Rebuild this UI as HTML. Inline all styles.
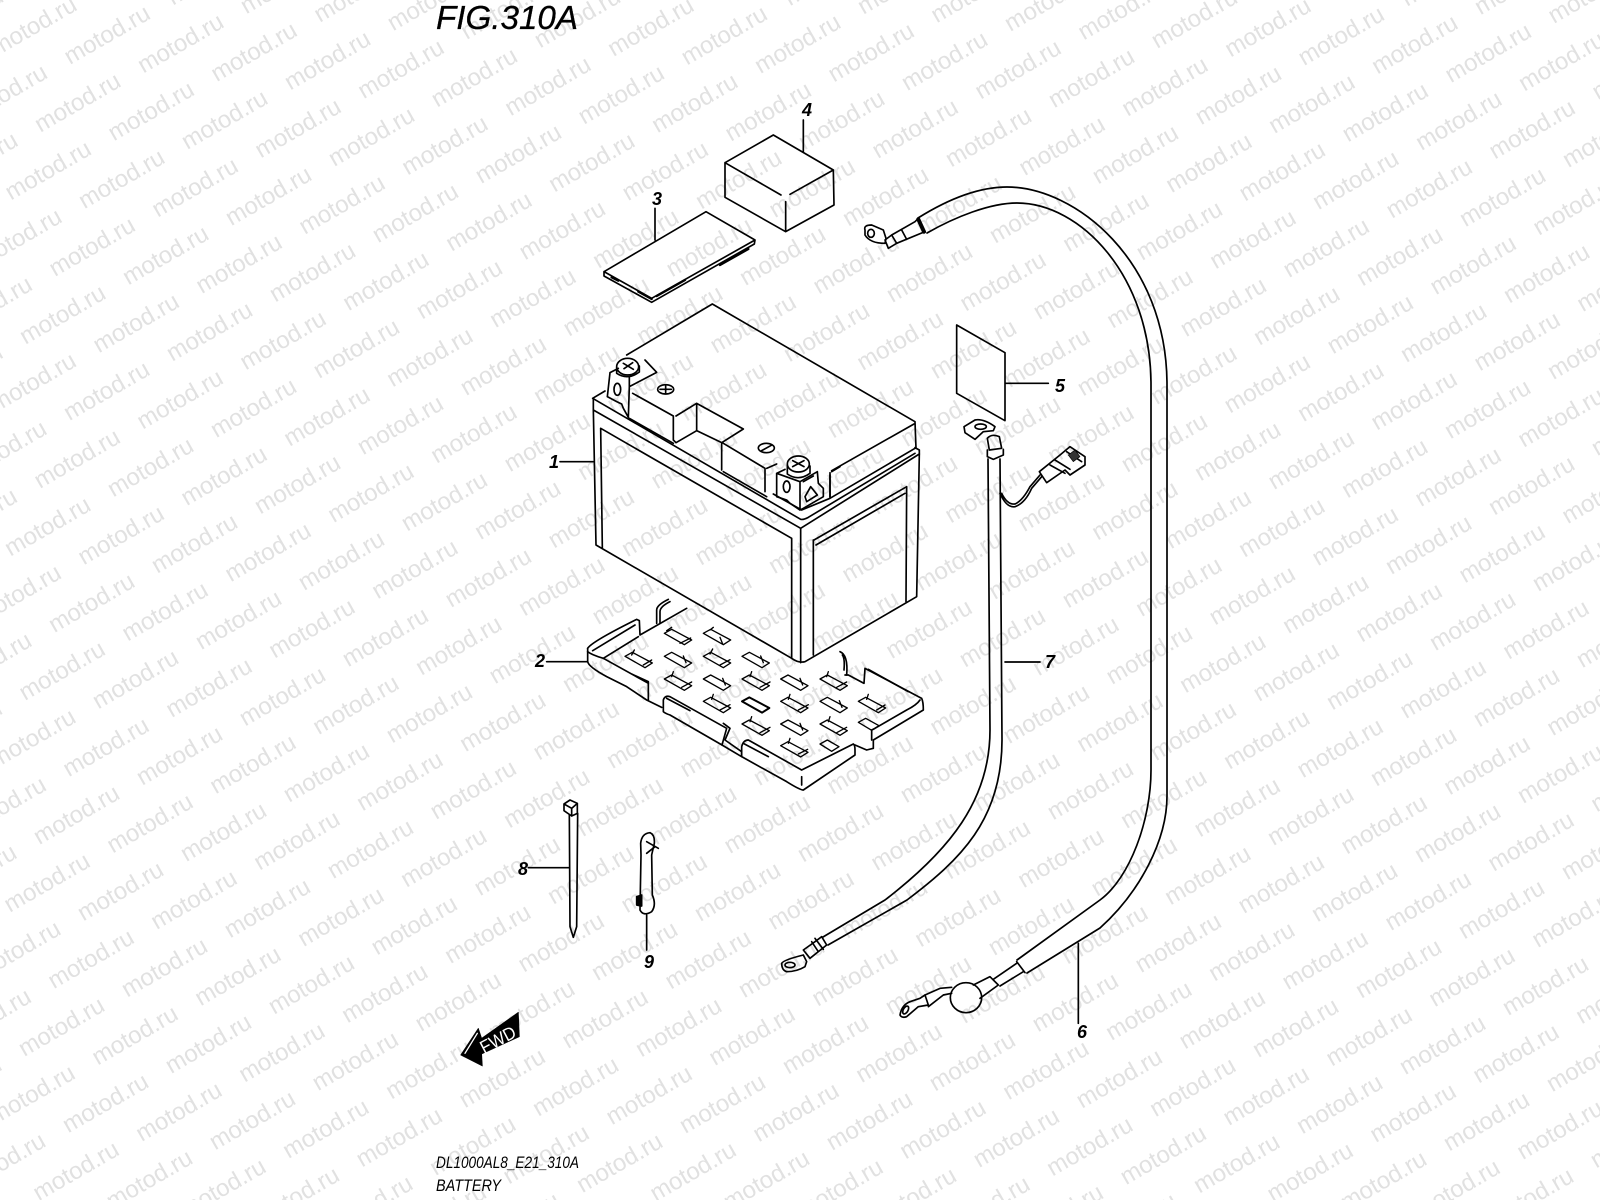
<!DOCTYPE html>
<html><head><meta charset="utf-8"><title>FIG.310A Battery</title>
<style>
html,body{margin:0;padding:0;background:#fff;width:1600px;height:1200px;overflow:hidden}
svg{display:block}
.w text{font:24px "Liberation Sans",sans-serif;fill:#e1e1e1;word-spacing:17.4px;text-rendering:geometricPrecision}
.l{fill:none;stroke:#000;stroke-linecap:round;stroke-linejoin:round}
.n{font:italic bold 18px "Liberation Sans",sans-serif;fill:#000;text-anchor:middle}
</style></head><body>
<svg xmlns="http://www.w3.org/2000/svg" width="1600" height="1200" viewBox="0 0 1600 1200">
<rect width="1600" height="1200" fill="#fff"/>
<g class="w" transform="translate(70 65) rotate(-29.93)">
<text x="-653.4" y="-132.15">motod.ru motod.ru motod.ru motod.ru motod.ru motod.ru motod.ru motod.ru motod.ru motod.ru motod.ru motod.ru motod.ru motod.ru motod.ru motod.ru motod.ru motod.ru motod.ru</text>
<text x="-712.8" y="-88.1">motod.ru motod.ru motod.ru motod.ru motod.ru motod.ru motod.ru motod.ru motod.ru motod.ru motod.ru motod.ru motod.ru motod.ru motod.ru motod.ru motod.ru motod.ru motod.ru</text>
<text x="-653.4" y="-44.05">motod.ru motod.ru motod.ru motod.ru motod.ru motod.ru motod.ru motod.ru motod.ru motod.ru motod.ru motod.ru motod.ru motod.ru motod.ru motod.ru motod.ru motod.ru motod.ru</text>
<text x="-712.8" y="0">motod.ru motod.ru motod.ru motod.ru motod.ru motod.ru motod.ru motod.ru motod.ru motod.ru motod.ru motod.ru motod.ru motod.ru motod.ru motod.ru motod.ru motod.ru motod.ru</text>
<text x="-653.4" y="44.05">motod.ru motod.ru motod.ru motod.ru motod.ru motod.ru motod.ru motod.ru motod.ru motod.ru motod.ru motod.ru motod.ru motod.ru motod.ru motod.ru motod.ru motod.ru motod.ru</text>
<text x="-712.8" y="88.1">motod.ru motod.ru motod.ru motod.ru motod.ru motod.ru motod.ru motod.ru motod.ru motod.ru motod.ru motod.ru motod.ru motod.ru motod.ru motod.ru motod.ru motod.ru motod.ru</text>
<text x="-653.4" y="132.15">motod.ru motod.ru motod.ru motod.ru motod.ru motod.ru motod.ru motod.ru motod.ru motod.ru motod.ru motod.ru motod.ru motod.ru motod.ru motod.ru motod.ru motod.ru motod.ru</text>
<text x="-712.8" y="176.2">motod.ru motod.ru motod.ru motod.ru motod.ru motod.ru motod.ru motod.ru motod.ru motod.ru motod.ru motod.ru motod.ru motod.ru motod.ru motod.ru motod.ru motod.ru motod.ru</text>
<text x="-653.4" y="220.25">motod.ru motod.ru motod.ru motod.ru motod.ru motod.ru motod.ru motod.ru motod.ru motod.ru motod.ru motod.ru motod.ru motod.ru motod.ru motod.ru motod.ru motod.ru motod.ru</text>
<text x="-712.8" y="264.3">motod.ru motod.ru motod.ru motod.ru motod.ru motod.ru motod.ru motod.ru motod.ru motod.ru motod.ru motod.ru motod.ru motod.ru motod.ru motod.ru motod.ru motod.ru motod.ru</text>
<text x="-653.4" y="308.35">motod.ru motod.ru motod.ru motod.ru motod.ru motod.ru motod.ru motod.ru motod.ru motod.ru motod.ru motod.ru motod.ru motod.ru motod.ru motod.ru motod.ru motod.ru motod.ru</text>
<text x="-712.8" y="352.4">motod.ru motod.ru motod.ru motod.ru motod.ru motod.ru motod.ru motod.ru motod.ru motod.ru motod.ru motod.ru motod.ru motod.ru motod.ru motod.ru motod.ru motod.ru motod.ru</text>
<text x="-653.4" y="396.45">motod.ru motod.ru motod.ru motod.ru motod.ru motod.ru motod.ru motod.ru motod.ru motod.ru motod.ru motod.ru motod.ru motod.ru motod.ru motod.ru motod.ru motod.ru motod.ru</text>
<text x="-712.8" y="440.5">motod.ru motod.ru motod.ru motod.ru motod.ru motod.ru motod.ru motod.ru motod.ru motod.ru motod.ru motod.ru motod.ru motod.ru motod.ru motod.ru motod.ru motod.ru motod.ru</text>
<text x="-653.4" y="484.55">motod.ru motod.ru motod.ru motod.ru motod.ru motod.ru motod.ru motod.ru motod.ru motod.ru motod.ru motod.ru motod.ru motod.ru motod.ru motod.ru motod.ru motod.ru motod.ru</text>
<text x="-712.8" y="528.6">motod.ru motod.ru motod.ru motod.ru motod.ru motod.ru motod.ru motod.ru motod.ru motod.ru motod.ru motod.ru motod.ru motod.ru motod.ru motod.ru motod.ru motod.ru motod.ru</text>
<text x="-653.4" y="572.65">motod.ru motod.ru motod.ru motod.ru motod.ru motod.ru motod.ru motod.ru motod.ru motod.ru motod.ru motod.ru motod.ru motod.ru motod.ru motod.ru motod.ru motod.ru motod.ru</text>
<text x="-712.8" y="616.7">motod.ru motod.ru motod.ru motod.ru motod.ru motod.ru motod.ru motod.ru motod.ru motod.ru motod.ru motod.ru motod.ru motod.ru motod.ru motod.ru motod.ru motod.ru motod.ru</text>
<text x="-653.4" y="660.75">motod.ru motod.ru motod.ru motod.ru motod.ru motod.ru motod.ru motod.ru motod.ru motod.ru motod.ru motod.ru motod.ru motod.ru motod.ru motod.ru motod.ru motod.ru motod.ru</text>
<text x="-712.8" y="704.8">motod.ru motod.ru motod.ru motod.ru motod.ru motod.ru motod.ru motod.ru motod.ru motod.ru motod.ru motod.ru motod.ru motod.ru motod.ru motod.ru motod.ru motod.ru motod.ru</text>
<text x="-653.4" y="748.85">motod.ru motod.ru motod.ru motod.ru motod.ru motod.ru motod.ru motod.ru motod.ru motod.ru motod.ru motod.ru motod.ru motod.ru motod.ru motod.ru motod.ru motod.ru motod.ru</text>
<text x="-712.8" y="792.9">motod.ru motod.ru motod.ru motod.ru motod.ru motod.ru motod.ru motod.ru motod.ru motod.ru motod.ru motod.ru motod.ru motod.ru motod.ru motod.ru motod.ru motod.ru motod.ru</text>
<text x="-653.4" y="836.95">motod.ru motod.ru motod.ru motod.ru motod.ru motod.ru motod.ru motod.ru motod.ru motod.ru motod.ru motod.ru motod.ru motod.ru motod.ru motod.ru motod.ru motod.ru motod.ru</text>
<text x="-712.8" y="881">motod.ru motod.ru motod.ru motod.ru motod.ru motod.ru motod.ru motod.ru motod.ru motod.ru motod.ru motod.ru motod.ru motod.ru motod.ru motod.ru motod.ru motod.ru motod.ru</text>
<text x="-653.4" y="925.05">motod.ru motod.ru motod.ru motod.ru motod.ru motod.ru motod.ru motod.ru motod.ru motod.ru motod.ru motod.ru motod.ru motod.ru motod.ru motod.ru motod.ru motod.ru motod.ru</text>
<text x="-712.8" y="969.1">motod.ru motod.ru motod.ru motod.ru motod.ru motod.ru motod.ru motod.ru motod.ru motod.ru motod.ru motod.ru motod.ru motod.ru motod.ru motod.ru motod.ru motod.ru motod.ru</text>
<text x="-653.4" y="1013.15">motod.ru motod.ru motod.ru motod.ru motod.ru motod.ru motod.ru motod.ru motod.ru motod.ru motod.ru motod.ru motod.ru motod.ru motod.ru motod.ru motod.ru motod.ru motod.ru</text>
<text x="-712.8" y="1057.2">motod.ru motod.ru motod.ru motod.ru motod.ru motod.ru motod.ru motod.ru motod.ru motod.ru motod.ru motod.ru motod.ru motod.ru motod.ru motod.ru motod.ru motod.ru motod.ru</text>
<text x="-653.4" y="1101.25">motod.ru motod.ru motod.ru motod.ru motod.ru motod.ru motod.ru motod.ru motod.ru motod.ru motod.ru motod.ru motod.ru motod.ru motod.ru motod.ru motod.ru motod.ru motod.ru</text>
<text x="-712.8" y="1145.3">motod.ru motod.ru motod.ru motod.ru motod.ru motod.ru motod.ru motod.ru motod.ru motod.ru motod.ru motod.ru motod.ru motod.ru motod.ru motod.ru motod.ru motod.ru motod.ru</text>
<text x="-653.4" y="1189.35">motod.ru motod.ru motod.ru motod.ru motod.ru motod.ru motod.ru motod.ru motod.ru motod.ru motod.ru motod.ru motod.ru motod.ru motod.ru motod.ru motod.ru motod.ru motod.ru</text>
<text x="-712.8" y="1233.4">motod.ru motod.ru motod.ru motod.ru motod.ru motod.ru motod.ru motod.ru motod.ru motod.ru motod.ru motod.ru motod.ru motod.ru motod.ru motod.ru motod.ru motod.ru motod.ru</text>
<text x="-653.4" y="1277.45">motod.ru motod.ru motod.ru motod.ru motod.ru motod.ru motod.ru motod.ru motod.ru motod.ru motod.ru motod.ru motod.ru motod.ru motod.ru motod.ru motod.ru motod.ru motod.ru</text>
<text x="-712.8" y="1321.5">motod.ru motod.ru motod.ru motod.ru motod.ru motod.ru motod.ru motod.ru motod.ru motod.ru motod.ru motod.ru motod.ru motod.ru motod.ru motod.ru motod.ru motod.ru motod.ru</text>
<text x="-653.4" y="1365.55">motod.ru motod.ru motod.ru motod.ru motod.ru motod.ru motod.ru motod.ru motod.ru motod.ru motod.ru motod.ru motod.ru motod.ru motod.ru motod.ru motod.ru motod.ru motod.ru</text>
<text x="-712.8" y="1409.6">motod.ru motod.ru motod.ru motod.ru motod.ru motod.ru motod.ru motod.ru motod.ru motod.ru motod.ru motod.ru motod.ru motod.ru motod.ru motod.ru motod.ru motod.ru motod.ru</text>
<text x="-653.4" y="1453.65">motod.ru motod.ru motod.ru motod.ru motod.ru motod.ru motod.ru motod.ru motod.ru motod.ru motod.ru motod.ru motod.ru motod.ru motod.ru motod.ru motod.ru motod.ru motod.ru</text>
<text x="-712.8" y="1497.7">motod.ru motod.ru motod.ru motod.ru motod.ru motod.ru motod.ru motod.ru motod.ru motod.ru motod.ru motod.ru motod.ru motod.ru motod.ru motod.ru motod.ru motod.ru motod.ru</text>
<text x="-653.4" y="1541.75">motod.ru motod.ru motod.ru motod.ru motod.ru motod.ru motod.ru motod.ru motod.ru motod.ru motod.ru motod.ru motod.ru motod.ru motod.ru motod.ru motod.ru motod.ru motod.ru</text>
<text x="-712.8" y="1585.8">motod.ru motod.ru motod.ru motod.ru motod.ru motod.ru motod.ru motod.ru motod.ru motod.ru motod.ru motod.ru motod.ru motod.ru motod.ru motod.ru motod.ru motod.ru motod.ru</text>
<text x="-653.4" y="1629.85">motod.ru motod.ru motod.ru motod.ru motod.ru motod.ru motod.ru motod.ru motod.ru motod.ru motod.ru motod.ru motod.ru motod.ru motod.ru motod.ru motod.ru motod.ru motod.ru</text>
<text x="-712.8" y="1673.9">motod.ru motod.ru motod.ru motod.ru motod.ru motod.ru motod.ru motod.ru motod.ru motod.ru motod.ru motod.ru motod.ru motod.ru motod.ru motod.ru motod.ru motod.ru motod.ru</text>
<text x="-653.4" y="1717.95">motod.ru motod.ru motod.ru motod.ru motod.ru motod.ru motod.ru motod.ru motod.ru motod.ru motod.ru motod.ru motod.ru motod.ru motod.ru motod.ru motod.ru motod.ru motod.ru</text>
<text x="-712.8" y="1762">motod.ru motod.ru motod.ru motod.ru motod.ru motod.ru motod.ru motod.ru motod.ru motod.ru motod.ru motod.ru motod.ru motod.ru motod.ru motod.ru motod.ru motod.ru motod.ru</text>
</g>

<text x="436" y="29" font-family="Liberation Sans" font-style="italic" font-size="33.5" fill="#000" stroke="#000" stroke-width=".3" textLength="142" lengthAdjust="spacingAndGlyphs">FIG.310A</text>
<text x="436" y="1168" font-family="Liberation Sans" font-style="italic" font-size="17" fill="#000" textLength="143" lengthAdjust="spacingAndGlyphs">DL1000AL8_E21_310A</text>
<text x="436" y="1191" font-family="Liberation Sans" font-style="italic" font-size="17" fill="#000" textLength="65" lengthAdjust="spacingAndGlyphs">BATTERY</text>

<!-- battery body -->
<g class="l" stroke-width="5" transform="translate(560 280) scale(.33333)">
<path d="M0 545H100"/>
<path d="M200 225L457 72L1065 425L1068 505"/>
<path d="M815 572L1062 432M810 578V652"/>
<path d="M98 355L135 333M98 355L722 718Q730 720 745 712L1065 520"/>
<path d="M1065 503L1078 510V522L722 745L100 390V358"/>
<path d="M100 390L108 795L695 1135Q715 1150 735 1145L1070 950L1078 522"/>
<path d="M122 445L127 803M122 445L695 775V1135M722 745V1148"/>
<path d="M762 780L1040 620L1038 965M768 795L1035 640M760 780V1125"/>
<path d="M640 642L725 690L810 655L1065 505"/>
</g>
<!-- lid details & terminals -->
<g class="l" stroke-width="5" transform="translate(590 340) scale(.33333)">
<ellipse cx="113" cy="80" rx="33" ry="25"/>
<path d="M80 82V100Q113 122 148 96V78M100 70L130 88M128 68L102 86"/>
<path d="M60 98L52 170L80 185L95 192L100 205L115 232L118 140L200 97L165 60M60 98L85 85M118 140V110"/>
<ellipse cx="82" cy="148" rx="10" ry="18"/>
<path d="M128 160L250 228V300L258 308L320 272L395 308L460 267L320 190L258 228M320 190V272M395 310V390M400 310L525 385V455"/>
<path d="M118 235L250 310M400 395L530 470"/>
<ellipse cx="227" cy="148" rx="24" ry="14"/><path d="M210 148H244M227 138V158"/>
<ellipse cx="529" cy="324" rx="24" ry="14"/><path d="M515 332L544 316"/>
<ellipse cx="625" cy="372" rx="33" ry="24"/>
<path d="M592 375V402Q625 425 660 400V378M608 362L642 380M642 362L608 380"/>
<path d="M560 400V470L590 480L600 490L630 510V425L560 400M560 400L585 388M630 425L682 395L685 430L700 445V470L640 505L630 510"/>
<ellipse cx="590" cy="440" rx="10" ry="17"/>
<path d="M645 470L662 440L682 465L650 485ZM640 425L670 408"/>
<path d="M720 405V470M530 385L560 372M725 395L750 380"/>
</g>

<!-- tray -->
<g class="l" stroke-width="5" transform="translate(520 580) scale(.33333)">
<path d="M80 245H203"/>
<path d="M203 205V245Q205 260 260 290L320 320L380 360L425 382"/>
<path d="M203 205Q215 185 350 118L358 122L360 165L500 85M218 212L345 135M250 235L355 170"/>
<path d="M410 130V90Q410 75 445 58M420 130V95Q420 80 450 65"/>
<path d="M203 215Q215 225 250 235L385 310M335 282L385 305V360"/>
<path d="M430 395V360Q435 345 450 350L620 445L606 495L450 405Q435 400 430 395ZM440 355L510 392"/>
<path d="M610 430L630 445L615 480L665 515V530M606 495L665 530"/>
<path d="M665 500Q670 480 685 480L845 570L1000 492Q1005 495 1005 510V525L850 630Q840 630 800 605L665 530ZM670 490L745 530M845 590V615"/>
<path d="M1035 265L1205 355Q1210 365 1210 390L1060 480V505L1040 510L1005 495M1035 265L1032 310L985 285H975"/>
<path d="M1045 268L1165 335M1200 360Q1190 375 1160 390L1065 445L1055 450V480"/>
<path d="M960 215Q985 225 980 285M967 225Q975 235 972 270"/>
<g stroke-width="4">
<path d="M433 160l22-12 60 32-22 14zM440 152l15-10M480 190l32-16"/>
<path d="M550 160l22-12 60 32-22 14zM570 150l10-8M600 172l8 20"/>
<path d="M315 229l22-12 60 32-22 14zM335 225l8-15M370 255l25-15"/>
<path d="M433 229l22-12 60 32-22 14zM490 228l8 20"/>
<path d="M550 229l22-12 60 32-22 14zM570 222l8-15M600 255l30-16"/>
<path d="M666 229l22-12 60 32-22 14zM722 228l8 20"/>
<path d="M433 297l22-12 60 32-22 14zM455 290l5-15M485 322l30-16"/>
<path d="M550 297l22-12 60 32-22 14zM608 295l8 20"/>
<path d="M666 297l22-12 60 32-22 14zM690 290l5-15M720 322l30-16"/>
<path d="M782 297l22-12 60 32-22 14zM840 295l8 20"/>
<path d="M900 297l22-12 60 32-22 14zM920 290l5-15M950 322l30-16"/>
<path d="M550 364l22-12 60 32-22 14zM575 358l5-15M600 390l30-16"/>
<path d="M666 364l22-12 60 32-22 14z" stroke-width="6"/>
<path d="M782 364l22-12 60 32-22 14zM805 358l5-15M835 390l30-16"/>
<path d="M900 364l22-12 60 32-22 14zM958 362l8 20"/>
<path d="M1015 364l22-12 60 32-22 14zM1040 358l5-15M1070 390l25-15"/>
<path d="M666 432l22-12 60 32-22 14zM690 425l5-15M720 458l30-16"/>
<path d="M782 432l22-12 60 32-22 14zM840 430l8 20"/>
<path d="M900 432l22-12 60 32-22 14zM925 425l5-15M950 458l30-16"/>
<path d="M1015 427l22-12 40 22-22 14z"/>
<path d="M782 497l22-12 60 32-22 14zM805 490l5-15M835 522l28-14"/>
<path d="M900 492l22-12 35 20-22 14z"/>
</g>
</g>

<!-- box 4, plate 3 -->
<g class="l" stroke-width="5" transform="translate(400 0) scale(.33333)">
<path d="M975 488L1120 405L1300 510L1302 615L1157 695L975 592ZM975 488L1143 585M1170 583L1300 510M1157 605V695M1210 360V455"/>
<path d="M612 815L918 635L1065 720L1063 732L755 907L612 828ZM612 815L755 895L1065 720M765 625V720"/>
<path d="M770 888L855 840M960 795L1045 747M635 832L655 842M715 875L755 897" stroke-width="7"/>
</g>

<!-- cables 6 and 7 -->
<g class="l" stroke-width="1.7">
<path d="M918 218C950 198 980 187 1007 187C1075 187 1167 260 1167 385L1167 796C1167 840 1140 892 1100 928L1027 973"/>
<path d="M927 233C955 217 990 203 1017 203C1080 203 1151 275 1151 385L1151 770C1151 820 1130 878 1100 900L1017 960"/>
<path d="M988 459L990 730C990 800 950 850 885 900L823 937"/>
<path d="M1000 459L1002 740C1002 820 960 860 907 900L828 945"/>
<path d="M1005 662H1040"/>
</g>
<g class="l" stroke-width="5" transform="translate(850 180) scale(.33333)">
<path d="M45 150Q40 135 65 135L100 150L108 175L105 190Q60 190 45 165Z"/>
<ellipse cx="63" cy="160" rx="10" ry="12"/>
<path d="M105 180L125 165L140 190L115 205ZM125 165L195 125L205 115M140 190L225 155M155 150L170 178"/>
<path d="M205 118L222 155" stroke-width="12"/>
<path d="M320 435L465 518V722L320 640ZM468 610H595"/>
</g>
<!-- cable 7 top terminal + connector -->
<g class="l" stroke-width="5" transform="translate(950 410) scale(.33333)">
<path d="M42 50L75 30Q100 25 135 50L130 62L100 65L75 88L45 68Z"/>
<ellipse cx="92" cy="50" rx="17" ry="8"/>
<path d="M112 85Q125 70 148 80L155 115L118 120ZM112 120V140L130 148L160 135V118"/>
<path d="M150 250Q170 295 195 290Q225 280 245 235L275 200M155 250Q172 285 195 282Q218 272 240 230L270 195"/>
<path d="M268 185L330 135L360 110L405 140V165L360 195L345 180L290 218ZM300 165L345 190M315 150L360 178M350 125L395 155"/>
<path d="M355 135L375 120L390 140L370 155Z" fill="#333" stroke-width="2"/>
</g>
<g class="l" stroke-width="5" transform="translate(760 900) scale(.33333)">
<path d="M65 190Q70 180 130 165L140 185L135 200Q110 215 80 215Q65 210 65 190Z"/>
<ellipse cx="90" cy="195" rx="15" ry="8"/>
<path d="M130 150L165 125L185 110L200 135L150 175L130 150M155 125L175 155M165 115L190 148"/>
<path d="M955 130V370"/>
<path d="M420 345Q425 315 450 305L480 295L495 285L505 315L475 320L440 350Q425 355 420 345Z"/>
<ellipse cx="437" cy="330" rx="7" ry="13" transform="rotate(30 437 330)"/>
<path d="M495 285L540 265L575 262M505 320L550 285L575 280"/>
<ellipse cx="618" cy="293" rx="47" ry="45"/>
<path d="M640 255L690 230L715 255L660 295M700 238L770 190M720 258L790 215M770 185L795 218"/>
</g>

<!-- tie, clamp, FWD -->
<g class="l" stroke-width="5" transform="translate(420 780) scale(.33333)">
<path d="M432 72L450 60L472 70V100L455 108L432 92ZM432 72L455 85L472 70M455 85V108"/>
<path d="M448 105L450 440L460 472L470 440L473 100"/>
<path d="M325 263H447M680 405V510"/>
<path d="M662 190Q665 160 690 158Q705 165 703 190L695 225L697 345Q710 375 695 395Q670 410 660 390L663 225Z"/>
<path d="M680 185L715 205M680 220L705 200"/>
<path d="M650 350L665 345V378L650 375Z" fill="#000"/>
<path d="M122 825L175 745L185 775L295 697L298 770L185 822L187 858Z" fill="#000" stroke-width="2"/>
<path d="M135 820L172 760" stroke="#fff" stroke-width="4"/>
</g>
<text transform="translate(484 1054) rotate(-28)" font-family="Liberation Sans" font-size="18" fill="#fff" textLength="38" lengthAdjust="spacingAndGlyphs">FWD</text>

<!-- numbers -->
<text class="n" x="554" y="468">1</text>
<text class="n" x="540" y="667">2</text>
<text class="n" x="657" y="205">3</text>
<text class="n" x="807" y="116">4</text>
<text class="n" x="1060" y="392">5</text>
<text class="n" x="1082" y="1038">6</text>
<text class="n" x="1050" y="668">7</text>
<text class="n" x="523" y="875">8</text>
<text class="n" x="649" y="968">9</text>
</svg>
</body></html>
